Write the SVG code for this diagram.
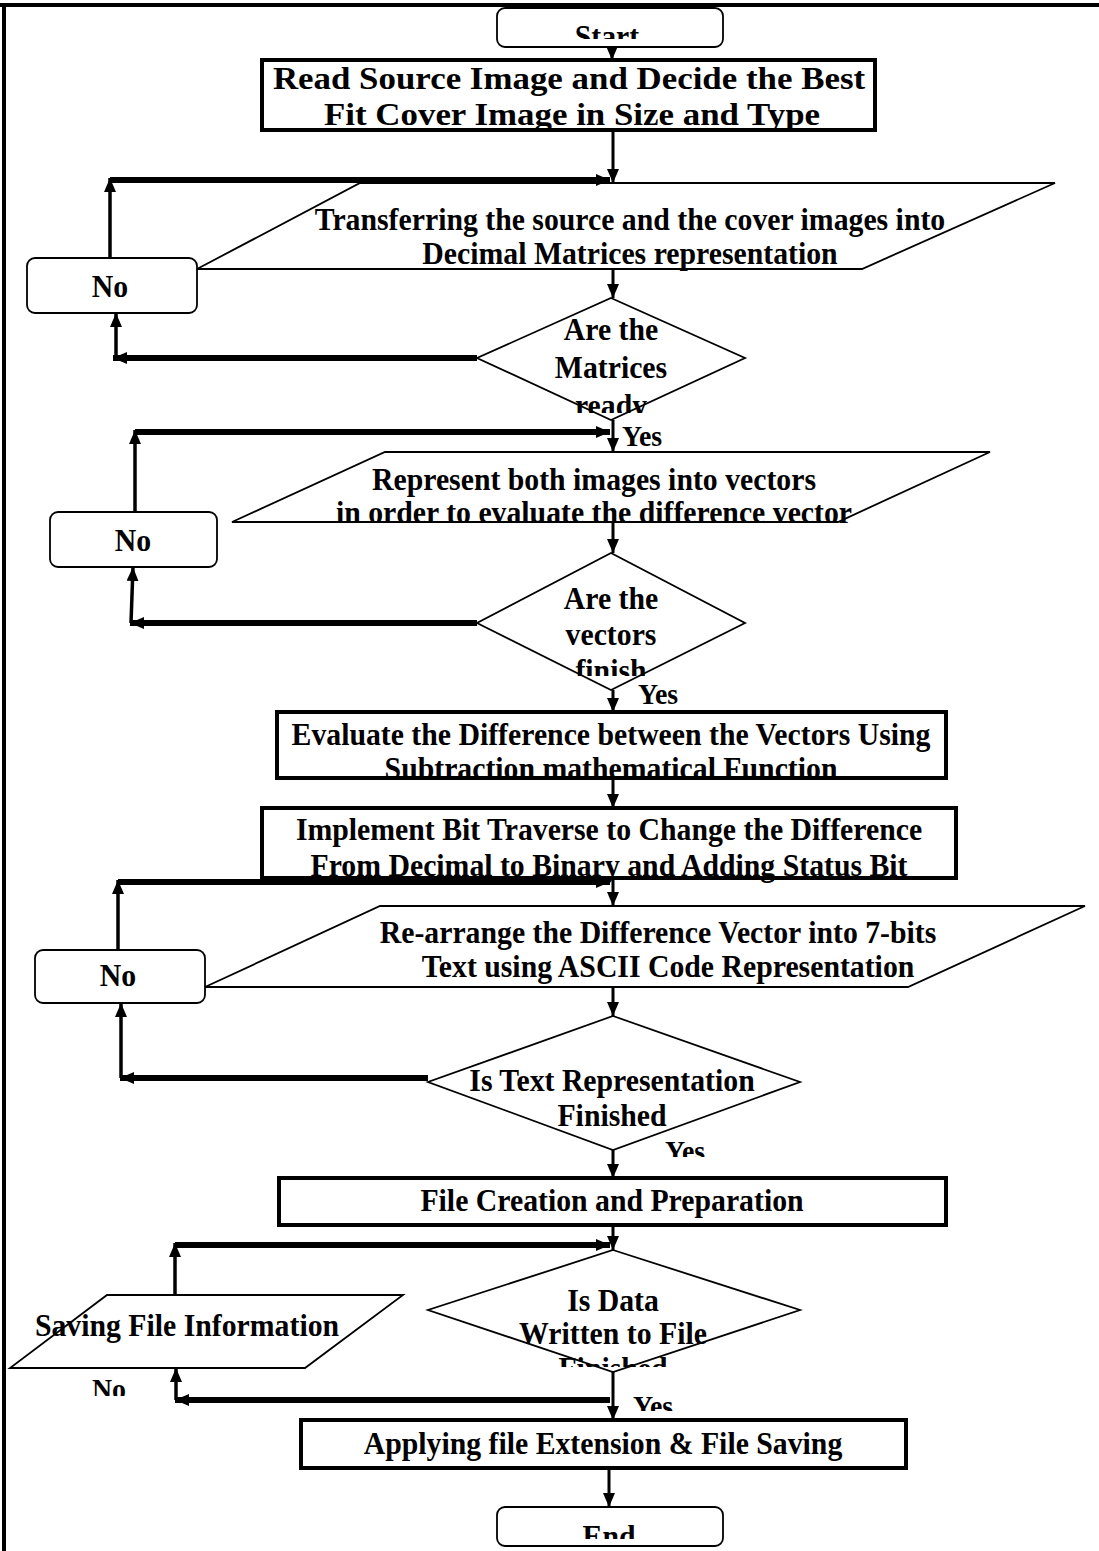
<svg xmlns="http://www.w3.org/2000/svg" width="1099" height="1551" viewBox="0 0 1099 1551">
<style>
.t{font-family:"Liberation Serif","Times New Roman",serif;font-weight:bold;font-size:31px;text-anchor:middle;fill:#000}
.big{font-size:32px}
.ts{font-family:"Liberation Serif","Times New Roman",serif;font-weight:bold;font-size:29px;text-anchor:start;fill:#000}
.thick{fill:#fff;stroke:#000;stroke-width:4}
.thin{fill:#fff;stroke:#000;stroke-width:1.8}
.f{stroke:#000;stroke-width:3;fill:none;marker-end:url(#ah)}
.l{stroke:#000;stroke-width:6;fill:none;marker-end:url(#ah)}
.v{stroke:#000;stroke-width:3.5;fill:none;marker-end:url(#ah)}
</style>
<defs>
<marker id="ah" viewBox="0 0 14 12" markerWidth="14" markerHeight="12" refX="14" refY="6" orient="auto" markerUnits="userSpaceOnUse">
<path d="M0,0 L14,6 L0,12 z" fill="#000"/>
</marker>
<clipPath id="cStart"><rect x="497" y="8" width="226" height="31"/></clipPath>
<clipPath id="cEnd"><rect x="497" y="1507" width="226" height="32"/></clipPath>
<clipPath id="cD1"><rect x="540" y="390" width="150" height="23"/></clipPath>
<clipPath id="cD2"><rect x="540" y="650" width="150" height="26"/></clipPath>
<clipPath id="cD4"><rect x="520" y="1350" width="180" height="17"/></clipPath>
<clipPath id="cY3"><rect x="650" y="1130" width="80" height="27"/></clipPath>
<clipPath id="cY4"><rect x="620" y="1390" width="80" height="21"/></clipPath>
<clipPath id="cNo4"><rect x="80" y="1370" width="80" height="26"/></clipPath>
</defs>

<g id="frame">
<path d="M0,5 H1099 M4,5 V1551" stroke="#000" stroke-width="4" fill="none"/>
</g>

<g id="start">
<rect class="thin" x="497" y="8" width="226" height="39" rx="8"/>
<g clip-path="url(#cStart)"><text class="t" transform="translate(607,47) scale(0.96,1)">Start</text></g>
</g>

<g id="read-source">
<rect class="thick" x="262" y="60" width="613" height="70"/>
<text class="t big" transform="translate(569,89) scale(1.09,1)">Read Source Image and Decide the Best</text>
<text class="t big" transform="translate(572,125) scale(1.09,1)">Fit Cover Image in Size and Type</text>
</g>

<g id="transfer">
<polygon class="thin" points="360,183 1055,183 862,269 197,269"/>
<text class="t" transform="translate(630,230) scale(0.96,1)">Transferring the source and the cover images into</text>
<text class="t" transform="translate(630,264) scale(0.96,1)">Decimal Matrices representation</text>
</g>

<g id="no1">
<rect class="thin" x="27" y="258" width="170" height="55" rx="8"/>
<text class="t" transform="translate(110,297) scale(0.96,1)">No</text>
</g>

<g id="matrices-ready">
<polygon class="thin" points="611,298 745,358 611,420 477,358"/>
<text class="t" transform="translate(611,340) scale(0.96,1)">Are the</text>
<text class="t" transform="translate(611,378) scale(0.96,1)">Matrices</text>
<g clip-path="url(#cD1)"><text class="t" transform="translate(611,416) scale(0.96,1)">ready</text></g>
</g>

<g id="yes1"><text class="ts" transform="translate(622,446) scale(0.96,1)">Yes</text></g>

<g id="represent">
<polygon class="thin" points="385,452 990,452 838,522 232,522"/>
<text class="t" transform="translate(594,490) scale(0.96,1)">Represent both images into vectors</text>
<text class="t" transform="translate(594,523) scale(0.96,1)">in order to evaluate the difference vector</text>
</g>

<g id="no2">
<rect class="thin" x="50" y="512" width="167" height="55" rx="8"/>
<text class="t" transform="translate(133,551) scale(0.96,1)">No</text>
</g>

<g id="vectors-finish">
<polygon class="thin" points="611,553 745,623 611,690 477,623"/>
<text class="t" transform="translate(611,609) scale(0.96,1)">Are the</text>
<text class="t" transform="translate(611,645) scale(0.96,1)">vectors</text>
<g clip-path="url(#cD2)"><text class="t" transform="translate(611,681) scale(0.96,1)">finish</text></g>
</g>

<g id="yes2"><text class="ts" transform="translate(638,704) scale(0.96,1)">Yes</text></g>

<g id="evaluate">
<rect class="thick" x="277" y="712" width="669" height="66"/>
<text class="t" transform="translate(611,745) scale(0.96,1)">Evaluate the Difference between the Vectors Using</text>
<text class="t" transform="translate(611,779) scale(0.96,1)">Subtraction mathematical Function</text>
</g>

<g id="implement">
<rect class="thick" x="262" y="808" width="694" height="70"/>
<text class="t" transform="translate(609,840) scale(0.96,1)">Implement Bit Traverse to Change the Difference</text>
<text class="t" transform="translate(609,876) scale(0.96,1)">From Decimal to Binary and Adding Status Bit</text>
</g>

<g id="rearrange">
<polygon class="thin" points="380,906 1085,906 908,987 205,987"/>
<text class="t" transform="translate(658,943) scale(0.96,1)">Re-arrange the Difference Vector into 7-bits</text>
<text class="t" transform="translate(668,977) scale(0.96,1)">Text using ASCII Code Representation</text>
</g>

<g id="no3">
<rect class="thin" x="35" y="950" width="170" height="53" rx="8"/>
<text class="t" transform="translate(118,986) scale(0.96,1)">No</text>
</g>

<g id="text-finished">
<polygon class="thin" points="613,1016 800,1082 613,1150 428,1082"/>
<text class="t" transform="translate(612,1091) scale(0.96,1)">Is Text Representation</text>
<text class="t" transform="translate(612,1126) scale(0.96,1)">Finished</text>
</g>

<g id="yes3"><g clip-path="url(#cY3)"><text class="ts" transform="translate(665,1161) scale(0.96,1)">Yes</text></g></g>

<g id="file-creation">
<rect class="thick" x="279" y="1178" width="667" height="47"/>
<text class="t" transform="translate(612,1211) scale(0.96,1)">File Creation and Preparation</text>
</g>

<g id="data-written">
<polygon class="thin" points="613,1250 800,1310 613,1372 428,1310"/>
<text class="t" transform="translate(613,1311) scale(0.96,1)">Is Data</text>
<text class="t" transform="translate(613,1344) scale(0.96,1)">Written to File</text>
<g clip-path="url(#cD4)"><text class="t" transform="translate(613,1379) scale(0.96,1)">Finished</text></g>
</g>

<g id="saving">
<polygon class="thin" points="107,1295 403,1295 305,1368 10,1368"/>
<text class="t" transform="translate(187,1336) scale(0.96,1)">Saving File Information</text>
</g>

<g id="no4"><g clip-path="url(#cNo4)"><text class="ts" transform="translate(92,1399) scale(0.96,1)">No</text></g></g>

<g id="yes4"><g clip-path="url(#cY4)"><text class="ts" transform="translate(633,1416) scale(0.96,1)">Yes</text></g></g>

<g id="applying">
<rect class="thick" x="301" y="1420" width="605" height="48"/>
<text class="t" transform="translate(603,1454) scale(0.96,1)">Applying file Extension &amp; File Saving</text>
</g>

<g id="end">
<rect class="thin" x="497" y="1507" width="226" height="39" rx="8"/>
<g clip-path="url(#cEnd)"><text class="t" transform="translate(609,1547) scale(0.96,1)">End</text></g>
</g>

<g id="connectors">
<line class="f" x1="612" y1="47" x2="612" y2="60"/>
<line class="f" x1="613" y1="130" x2="613" y2="183"/>
<line class="v" x1="110" y1="258" x2="110" y2="178"/>
<line class="l" x1="110" y1="180" x2="610" y2="180"/>
<line class="f" x1="613" y1="269" x2="613" y2="298"/>
<line class="l" x1="477" y1="358" x2="113" y2="358"/>
<line class="v" x1="116" y1="358" x2="116" y2="313"/>
<line class="f" x1="613" y1="420" x2="613" y2="452"/>
<line class="v" x1="135" y1="512" x2="135" y2="430"/>
<line class="l" x1="135" y1="432" x2="610" y2="432"/>
<line class="f" x1="613" y1="522" x2="613" y2="553"/>
<line class="l" x1="477" y1="623" x2="130" y2="623"/>
<line class="v" x1="131" y1="623" x2="133" y2="567"/>
<line class="f" x1="613" y1="690" x2="613" y2="712"/>
<line class="f" x1="613" y1="778" x2="613" y2="808"/>
<line class="f" x1="613" y1="878" x2="613" y2="906"/>
<line class="v" x1="118" y1="950" x2="118" y2="880"/>
<line class="l" x1="118" y1="882" x2="610" y2="882"/>
<line class="f" x1="613" y1="987" x2="613" y2="1016"/>
<line class="l" x1="428" y1="1078" x2="120" y2="1078"/>
<line class="v" x1="121" y1="1078" x2="121" y2="1003"/>
<line class="f" x1="613" y1="1150" x2="613" y2="1178"/>
<line class="f" x1="613" y1="1225" x2="613" y2="1250"/>
<line class="v" x1="175" y1="1295" x2="175" y2="1243"/>
<line class="l" x1="175" y1="1245" x2="610" y2="1245"/>
<line class="l" x1="610" y1="1400" x2="175" y2="1400"/>
<line class="v" x1="176" y1="1400" x2="176" y2="1368"/>
<line class="f" x1="613" y1="1372" x2="613" y2="1420"/>
<line class="f" x1="609" y1="1468" x2="609" y2="1507"/>
</g>
</svg>
